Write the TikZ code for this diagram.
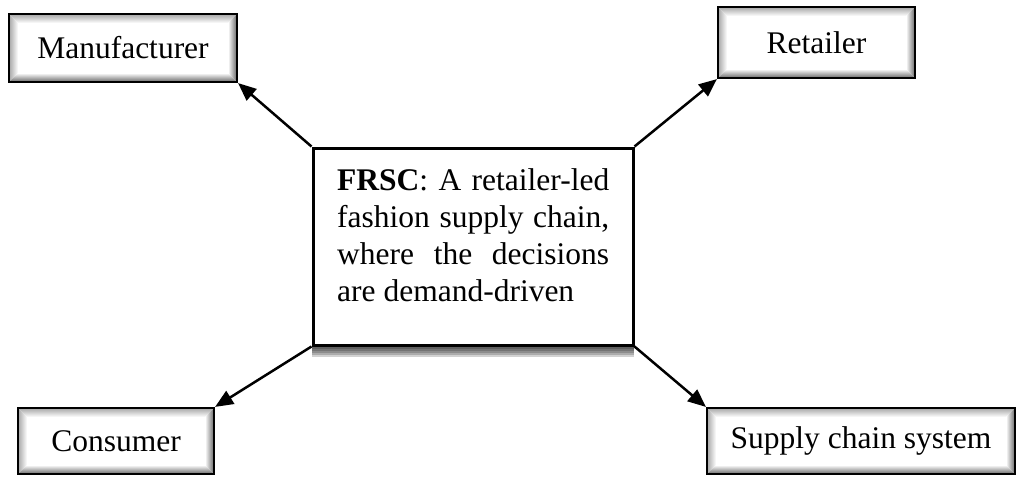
\documentclass[tikz,border=0pt]{standalone}
\usepackage{fontspec}
\setmainfont{Liberation Serif}
\usetikzlibrary{arrows.meta,calc}
\tikzset{
  bevel/.style={draw=black, line width=2.2pt, fill=white, rectangle, inner sep=0pt,
    font=\fontsize{31.5}{36}\selectfont,
    path picture={
      \coordinate (nw) at (path picture bounding box.north west);
      \coordinate (ne) at (path picture bounding box.north east);
      \coordinate (sw) at (path picture bounding box.south west);
      \coordinate (se) at (path picture bounding box.south east);
      \shade[top color=gray!70, bottom color=white] (nw) -- (ne) -- ($(ne)+(-9,9)$) -- ($(nw)+(9,9)$) -- cycle;
      \shade[left color=gray!70, right color=white] (nw) -- ($(nw)+(9,9)$) -- ($(sw)+(9,-9)$) -- (sw) -- cycle;
      \shade[left color=white, right color=black!60] (ne) -- (se) -- ($(se)+(-9,-9)$) -- ($(ne)+(-9,9)$) -- cycle;
      \shade[top color=white, bottom color=black!60] (sw) -- (se) -- ($(se)+(-9,-9)$) -- ($(sw)+(9,-9)$) -- cycle;
    }},
  mainbox/.style={draw=black, line width=3pt, fill=white, rectangle, inner sep=0pt},
  shadowlayer/.style={fill=black, fill opacity=0.18, draw=none},
  conn/.style={line width=2.5pt, -{Triangle[length=18pt,width=15pt]}},
  bodytext/.style={inner sep=0pt, text width=272pt, align=justify, font=\fontsize{31.5}{37}\selectfont}
}
\begin{document}
\begin{tikzpicture}[x=1pt,y=-1pt]
\useasboundingbox (0,0) rectangle (1019,477);
\foreach \o in {12,10,8,6,4}{
  \fill[shadowlayer] (312,158) rectangle (634,345+\o);
}
\node[mainbox, minimum width=320pt, minimum height=197pt] (c) at (473,246.5) {};
\node[bodytext, anchor=north west] (ct) at (337,168) {\textbf{FRSC}: A retailer-led fashion supply chain, where the decisions are demand-driven\par};
\node[bevel, minimum width=228pt, minimum height=68pt] (m) at (123,48) {Manufacturer};
\node[bevel, minimum width=197pt, minimum height=71pt] (r) at (816.5,42.5) {Retailer};
\node[bevel, minimum width=196pt, minimum height=66pt] (co) at (116,441) {Consumer};
\node[bevel, minimum width=308pt, minimum height=66pt] (s) at (861,441) {Supply chain system};
\draw[conn] (c.north west) -- (m.south east);
\draw[conn] (c.north east) -- (r.south west);
\draw[conn] (c.south west) -- (co.north east);
\draw[conn] (c.south east) -- (s.north west);
\end{tikzpicture}
\end{document}
